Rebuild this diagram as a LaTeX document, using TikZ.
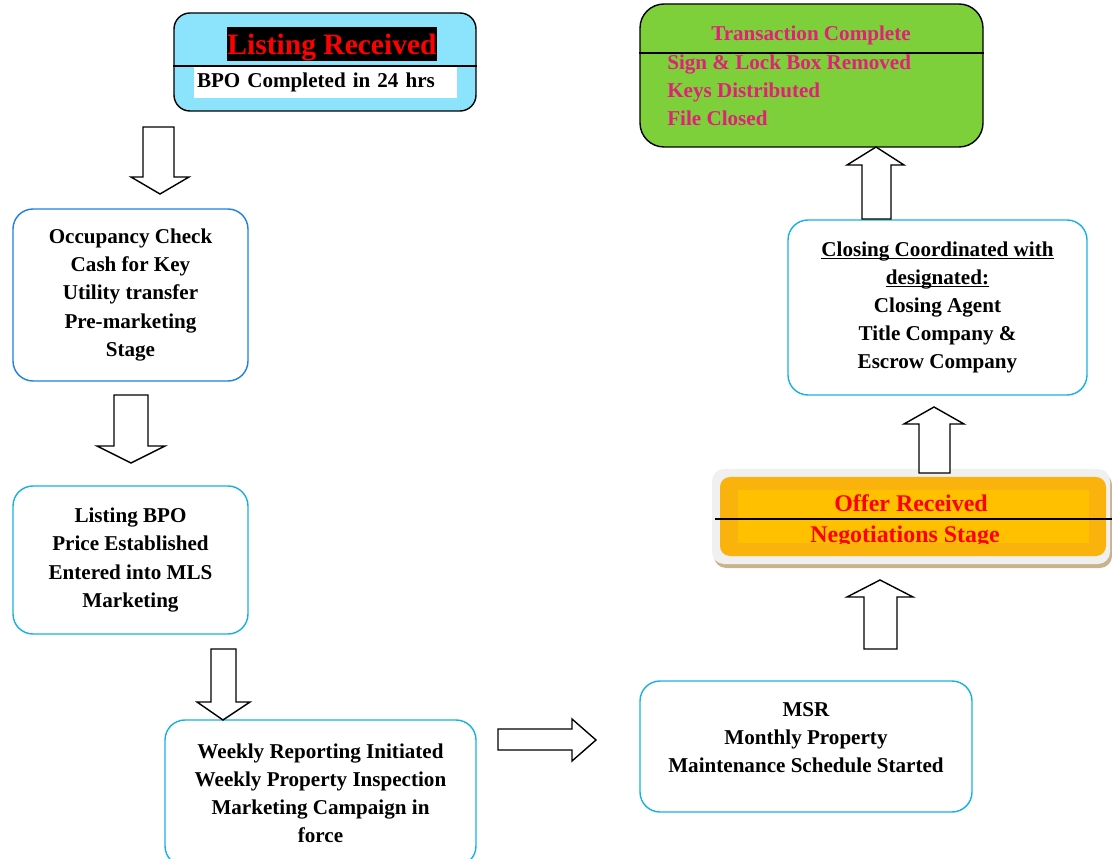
\documentclass[tikz,border=0pt]{standalone}
\usepackage{fontspec}
\setmainfont{Liberation Serif}

\definecolor{skyfill}{RGB}{140,228,252}
\definecolor{leafgreen}{RGB}{126,208,59}
\definecolor{pinktext}{RGB}{226,32,120}
\definecolor{boxblue}{RGB}{30,128,224}
\definecolor{boxcyan}{RGB}{24,176,226}
\definecolor{offerorange}{RGB}{250,178,12}
\definecolor{offerinner}{RGB}{255,192,0}
\definecolor{offerrim}{RGB}{240,240,240}
\definecolor{offershadow}{RGB}{200,180,140}

\newcommand\pxu{0.025cm}
\newcommand\lineunder[1]{\underline{\smash{#1}}\vphantom{#1}}

\tikzset{
	roundbox/.style={draw=boxcyan, line width=1pt, rounded corners=0.5cm, inner sep=0pt},
	boxtext/.style={font=\bfseries\fontsize{15}{20}\selectfont, align=center},
	blockarrow/.style={draw=black, fill=white, line width=1pt, line join=miter}
}

\begin{document}
\begin{tikzpicture}[x=0.025cm, y=-0.025cm]
	\useasboundingbox (0,0) rectangle (1112,859);

	\node (listbox) at (325,62) [draw=black, fill=skyfill, line width=1pt, rounded corners=0.4cm, minimum width=302*\pxu, minimum height=98*\pxu] {};
	\node (listtitle) at (332,44) [fill=black, text=red, inner sep=0pt, text depth=0pt, minimum width=208*\pxu, minimum height=34*\pxu, font=\bfseries\fontsize{21}{24}\selectfont] {Listing Received};
	\node (bpo) at (325.5,82.5) [fill=white, inner sep=0pt, inner xsep=3*\pxu, text width=257*\pxu, minimum height=31*\pxu, align=left, font=\bfseries\fontsize{15}{20}\selectfont] {BPO Completed in 24 hrs};
	\draw [line width=1pt] (listbox.west |- 0,66) -- (listbox.east |- 0,66);

	\node (occupancy) at (130.5,295) [roundbox, draw=boxblue, minimum width=235*\pxu, minimum height=172*\pxu, boxtext] {Occupancy Check\\Cash for Key\\Utility transfer\\Pre-marketing\\Stage};

	\node (listbpo) at (130.5,560) [roundbox, minimum width=235*\pxu, minimum height=148*\pxu, boxtext] {Listing BPO\\Price Established\\Entered into MLS\\Marketing};

	\node (weekly) at (320.5,793) [roundbox, minimum width=311*\pxu, minimum height=146*\pxu, boxtext, text depth=0pt] {Weekly Reporting Initiated\\Weekly Property Inspection\\Marketing Campaign in\\force};

	\node (msr) at (806,746.5) [roundbox, minimum width=332*\pxu, minimum height=131*\pxu] {};
	\node (msrtext) at (806,738) [boxtext] {MSR\\Monthly Property\\Maintenance Schedule Started};

	\fill [offershadow, rounded corners=0.3cm] (714,473) rectangle (1112,568);
	\fill [offerrim, rounded corners=0.3cm] (712,469) rectangle (1110,564);
	\node (offerbox) at (913,516.5) [fill=offerorange, rounded corners=0.25cm, minimum width=386*\pxu, minimum height=79*\pxu] {};
	\fill [offerinner] (738,490) rectangle (1089,543);
	\begin{scope}
		\clip (738,490) rectangle (1089,543);
		\node (offer) at (911,503) [text=red, font=\bfseries\fontsize{17}{20}\selectfont] {Offer Received};
		\node (negotiate) at (905,537) [text=red, font=\bfseries\fontsize{17}{20}\selectfont] {Negotiations Stage};
	\end{scope}
	\draw [line width=1pt] (715,519) -- (1112,519);

	\node (closing) at (937.5,307.5) [roundbox, minimum width=299*\pxu, minimum height=175*\pxu, boxtext] {\lineunder{Closing Coordinated with}\\\lineunder{designated:}\\Closing Agent\\Title Company \&\\Escrow Company};

	\node (donebox) at (811.5,75.5) [draw=black, fill=leafgreen, line width=1pt, rounded corners=0.6cm, minimum width=343*\pxu, minimum height=143*\pxu] {};
	\draw [line width=1pt] (donebox.west |- 0,53) -- (donebox.east |- 0,53);
	\node (donetitle) at (811,35) [text=pinktext, font=\bfseries\fontsize{15}{20}\selectfont] {Transaction Complete};
	\node (donelist) at (667,90) [anchor=west, inner sep=0pt, text=pinktext, align=left, font=\bfseries\fontsize{15}{20}\selectfont] {Sign \& Lock Box Removed\\Keys Distributed\\File Closed};

	\draw [blockarrow] (143,127) -- (174,127) -- (174,177) -- (189,177) -- (160,194) -- (131,177) -- (143,177) -- cycle;
	\draw [blockarrow] (114,395) -- (148,395) -- (148,446) -- (165,446) -- (131,463) -- (97,446) -- (114,446) -- cycle;
	\draw [blockarrow] (211,649) -- (236,649) -- (236,702) -- (250,702) -- (223,720) -- (197,702) -- (211,702) -- cycle;
	\draw [blockarrow] (498,729) -- (572,729) -- (572,719) -- (596,740) -- (572,761) -- (572,750) -- (498,750) -- cycle;
	\draw [blockarrow] (864,649) -- (864,597) -- (847,597) -- (880,580) -- (913,597) -- (897,597) -- (897,649) -- cycle;
	\draw [blockarrow] (919,473) -- (919,424) -- (904,424) -- (934,407) -- (964,424) -- (950,424) -- (950,473) -- cycle;
	\draw [blockarrow] (862,219) -- (862,165) -- (847,165) -- (876,147) -- (904,165) -- (891,165) -- (891,219) -- cycle;
\end{tikzpicture}
\end{document}
